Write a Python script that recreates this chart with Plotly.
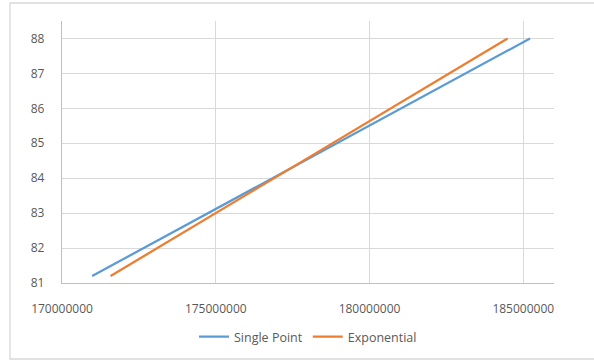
import plotly.graph_objects as go

# Series values (x = population-like count, y = value)
single_point_x = [170980000, 185220000]
single_point_y = [81.2, 88.0]
exponential_x = [171580000, 184490000]
exponential_y = [81.2, 88.0]

x_ticks = [170000000, 175000000, 180000000, 185000000]
y_ticks = [81, 82, 83, 84, 85, 86, 87, 88]

W, H = 594, 360
L, R, T, B = 62, 40, 21, 77
pw, ph = W - L - R, H - T - B

def px_x(p):
    return (p - L) / pw

def px_y(p):
    return (H - B - p) / ph

fig = go.Figure()
fig.add_trace(go.Scatter(x=single_point_x, y=single_point_y, mode="lines",
                         name="Single Point", line=dict(color="#5B9BD5", width=2.25)))
fig.add_trace(go.Scatter(x=exponential_x, y=exponential_y, mode="lines",
                         name="Exponential", line=dict(color="#ED7D31", width=2.25)))

font_gray = "#595959"
tick_font = dict(family="'Open Sans', sans-serif", size=12, color=font_gray)
fig.update_layout(
    width=W, height=H,
    margin=dict(l=L, r=R, t=T, b=B, autoexpand=False),
    paper_bgcolor="white", plot_bgcolor="white",
    font=dict(family="'Open Sans', sans-serif", size=12, color=font_gray),
    showlegend=True,
    legend=dict(orientation="h", x=0.5, xanchor="center", y=px_y(337), yanchor="middle",
                font=dict(family="'Open Sans', sans-serif", size=12.5, color=font_gray),
                itemwidth=30, tracegroupgap=0),
    xaxis=dict(range=[170000000, 186000000], tickvals=x_ticks,
               ticktext=[str(v) for v in x_ticks],
               showgrid=True, gridcolor="#D9D9D9", gridwidth=1.3,
               showline=True, linecolor="#BFBFBF", linewidth=1.3,
               zeroline=False, ticks="", ticklabelstandoff=14, tickfont=tick_font),
    yaxis=dict(range=[81, 88.5], tickvals=y_ticks,
               showgrid=True, gridcolor="#D9D9D9", gridwidth=1.3,
               showline=True, linecolor="#BFBFBF", linewidth=1.3,
               zeroline=False, ticks="", ticklabelstandoff=14, tickfont=tick_font),
    shapes=[dict(type="rect", xref="paper", yref="paper",
                 x0=px_x(10), x1=px_x(600), y0=px_y(359), y1=px_y(3),
                 line=dict(color="#D9D9D9", width=1.3), layer="below")],
)

fig.write_html("out.html")
